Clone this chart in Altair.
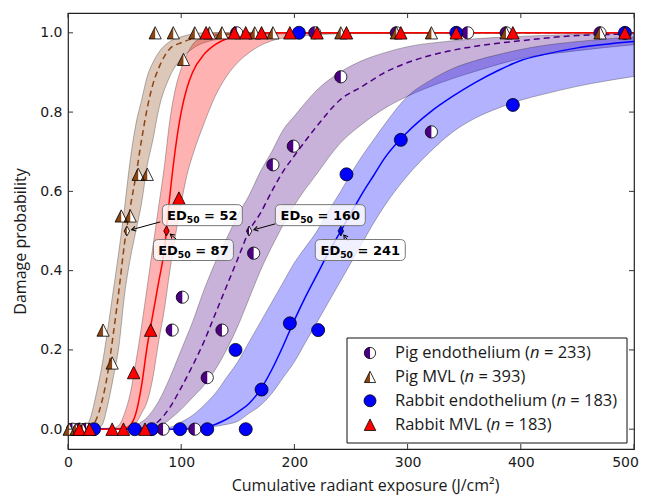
import math
import altair as alt
import pandas as pd

# ---------------- fitted dose-response curves ----------------
pig_end_x   = [0, 50, 60, 70, 80, 90, 100, 110, 120, 130, 140, 150, 160, 170, 180, 190, 200, 220, 240, 260, 280, 300, 330, 360, 400, 450, 500]
pig_end_fit = [0, 0, 0.001, 0.005, 0.02, 0.055, 0.105, 0.16, 0.22, 0.29, 0.36, 0.43, 0.50, 0.545, 0.60, 0.65, 0.69, 0.765, 0.83, 0.865, 0.90, 0.925, 0.95, 0.966, 0.98, 0.993, 0.997]
pig_end_lo  = [0, 0, 0, 0, 0.006, 0.025, 0.05, 0.08, 0.11, 0.15, 0.20, 0.26, 0.33, 0.40, 0.46, 0.515, 0.565, 0.645, 0.72, 0.77, 0.81, 0.84, 0.875, 0.903, 0.935, 0.955, 0.97]
pig_end_hi  = [0, 0, 0.01, 0.03, 0.07, 0.13, 0.20, 0.27, 0.35, 0.42, 0.48, 0.54, 0.59, 0.65, 0.70, 0.755, 0.79, 0.856, 0.90, 0.93, 0.95, 0.965, 0.977, 0.985, 0.991, 0.996, 0.999]

pig_mvl_x   = [0, 10, 15, 20, 25, 30, 35, 40, 45, 50, 55, 60, 65, 70, 75, 80, 90, 100, 110, 120, 150, 200, 500]
pig_mvl_fit = [0, 0, 0.001, 0.005, 0.025, 0.07, 0.14, 0.24, 0.35, 0.47, 0.56, 0.64, 0.73, 0.81, 0.87, 0.91, 0.96, 0.975, 0.985, 0.99, 0.998, 1.0, 1.0]
pig_mvl_lo  = [0, 0, 0, 0, 0, 0.01, 0.06, 0.13, 0.21, 0.34, 0.43, 0.50, 0.57, 0.665, 0.73, 0.805, 0.89, 0.935, 0.96, 0.975, 0.99, 0.998, 1.0]
pig_mvl_hi  = [0, 0, 0.005, 0.03, 0.09, 0.16, 0.25, 0.35, 0.45, 0.56, 0.68, 0.77, 0.83, 0.89, 0.925, 0.95, 0.978, 0.99, 0.997, 1.0, 1.0, 1.0, 1.0]

rab_end_x   = [0, 90, 100, 110, 120, 130, 140, 150, 160, 170, 180, 190, 200, 210, 220, 230, 241, 250, 260, 270, 280, 300, 320, 340, 360, 380, 400, 420, 450, 500]
rab_end_fit = [0, 0, 0, 0.002, 0.005, 0.012, 0.025, 0.043, 0.065, 0.10, 0.15, 0.21, 0.275, 0.335, 0.39, 0.445, 0.50, 0.545, 0.595, 0.64, 0.685, 0.75, 0.80, 0.84, 0.875, 0.905, 0.93, 0.945, 0.962, 0.978]
rab_end_lo  = [0, 0, 0, 0, 0.003, 0.007, 0.012, 0.02, 0.04, 0.06, 0.09, 0.13, 0.17, 0.22, 0.27, 0.32, 0.375, 0.42, 0.47, 0.52, 0.565, 0.64, 0.70, 0.75, 0.785, 0.81, 0.83, 0.845, 0.865, 0.89]
rab_end_hi  = [0, 0.005, 0.018, 0.035, 0.06, 0.09, 0.13, 0.17, 0.22, 0.27, 0.32, 0.37, 0.42, 0.46, 0.50, 0.55, 0.60, 0.645, 0.69, 0.73, 0.77, 0.84, 0.88, 0.91, 0.93, 0.945, 0.958, 0.968, 0.978, 0.99]

rab_mvl_x   = [0, 40, 45, 50, 55, 60, 65, 70, 75, 80, 85, 90, 95, 100, 105, 110, 120, 130, 140, 150, 160, 180, 200, 250, 500]
rab_mvl_fit = [0, 0, 0, 0.002, 0.01, 0.04, 0.11, 0.21, 0.29, 0.37, 0.45, 0.59, 0.71, 0.80, 0.86, 0.90, 0.945, 0.97, 0.985, 0.993, 0.997, 1.0, 1.0, 1.0, 1.0]
rab_mvl_lo  = [0, 0, 0, 0, 0.002, 0.015, 0.04, 0.07, 0.13, 0.22, 0.30, 0.40, 0.49, 0.57, 0.64, 0.69, 0.77, 0.84, 0.89, 0.925, 0.95, 0.98, 0.99, 0.998, 1.0]
rab_mvl_hi  = [0, 0.003, 0.01, 0.04, 0.09, 0.17, 0.26, 0.36, 0.46, 0.56, 0.66, 0.78, 0.86, 0.91, 0.945, 0.97, 0.99, 1.0, 1.0, 1.0, 1.0, 1.0, 1.0, 1.0, 1.0]

# ---------------- observed damage probabilities ----------------
pig_end_pts_x = [4, 10, 16, 84, 112, 92, 136, 123, 101, 164, 181, 199, 241, 321, 149, 218, 290, 353, 387, 470]
pig_end_pts_y = [0, 0, 0, 0, 0, 0.25, 0.25, 0.13, 0.333, 0.444, 0.667, 0.714, 0.889, 0.75, 1, 1, 1, 1, 1, 1]

pig_mvl_pts_x = [1, 7, 13, 19, 31, 39, 47, 55, 62, 70, 102, 77, 93, 112, 125, 136, 165, 181, 241, 290, 321, 387, 470]
pig_mvl_pts_y = [0, 0, 0, 0, 0.25, 0.167, 0.538, 0.538, 0.643, 0.643, 0.933, 1, 1, 1, 1, 1, 1, 1, 1, 1, 1, 1, 1]

rab_end_pts_x = [23, 59, 74, 99, 123, 157, 148, 171, 196, 221, 246, 294, 393, 204, 343, 492]
rab_end_pts_y = [0, 0, 0, 0, 0, 0, 0.2, 0.1, 0.267, 0.25, 0.643, 0.73, 0.818, 1, 1, 1]

rab_mvl_pts_x = [10, 19, 39, 49, 68, 58, 73, 98, 122, 147, 157, 171, 196, 220, 246, 294, 343, 393, 492]
rab_mvl_pts_y = [0, 0, 0, 0, 0, 0.143, 0.25, 0.583, 1, 1, 1, 1, 1, 1, 1, 1, 1, 1, 1]

# ---------------- ED50 annotations ----------------
ed50_values  = [160, 52, 241, 87]
ed50_label_x = [222.9, 118.7, 258.2, 110.8]
ed50_label_y = [0.540, 0.540, 0.452, 0.452]
ed50_tail_x  = [183.1, 81.6, 247.6, 95.8]
ed50_tail_y  = [0.518, 0.523, 0.475, 0.479]

legend_names = ["Pig endothelium", "Pig MVL", "Rabbit endothelium", "Rabbit MVL"]
legend_n     = [233, 393, 183, 183]

x_ticks = [0, 100, 200, 300, 400, 500]
y_ticks = [0.0, 0.2, 0.4, 0.6, 0.8, 1.0]

# ---------------- geometry / styles ----------------
W, H = 566, 436
X_DOM = [0, 500]
Y_DOM = [-0.05, 1.05]
KX = W / (X_DOM[1] - X_DOM[0])
KY = H / (Y_DOM[1] - Y_DOM[0])


def px2x(p):
    return X_DOM[0] + p / KX


def py2y(p):
    return Y_DOM[1] - p / KY


XS = alt.Scale(domain=X_DOM, nice=False, zero=False)
YS = alt.Scale(domain=Y_DOM, nice=False, zero=False)
XAX = alt.Axis(title="Cumulative radiant exposure (J/cm²)", values=x_ticks, format="d",
               grid=False, domain=False, ticks=False, tickSize=0, labelPadding=6,
               labelFont="DejaVu Sans", labelFontSize=14, labelColor="#1a1a1a",
               labelFlush=False, labelOverlap=False,
               labelOffset={"condition": {"test": "datum.value == 500", "value": -9}, "value": 0},
               titleFont="Open Sans", titleX=297, titleAlign="center",
               titleFontSize=16, titleFontWeight="normal", titleColor="#1a1a1a",
               titlePadding=8)
YAX = alt.Axis(title="Damage probability", values=y_ticks, format=".1f",
               grid=False, domain=False, ticks=False, tickSize=0, labelPadding=6,
               labelFont="DejaVu Sans", labelFontSize=14, labelColor="#1a1a1a",
               labelFlush=False, labelOverlap=False, titleFont="Open Sans",
               titleY=228, titleAlign="center",
               titleFontSize=16, titleFontWeight="normal", titleColor="#1a1a1a",
               titlePadding=11)


def X(f="x"):
    return alt.X(f"{f}:Q", scale=XS, axis=XAX)


def Y(f="y"):
    return alt.Y(f"{f}:Q", scale=YS, axis=YAX)


TRI = "M0,-1L-1,1L1,1Z"
TRI_HALF = "M0,-1L-1,1L0,1Z"
CIRC_HALF = "M0,-1A1,1,0,0,0,0,1Z"
DIAM = "M0,-1L0.55,0L0,1L-0.55,0Z"
DIAM_HALF = "M0,-1L-0.55,0L0,1Z"
ARROW = "M-1,-0.6L0,0L-1,0.6"

series = [
    dict(key="pig_end", color="#4B0082", dash=[6, 4], full="circle", half=CIRC_HALF, size=150,
         x=pig_end_x, fit=pig_end_fit, lo=pig_end_lo, hi=pig_end_hi, px=pig_end_pts_x, py=pig_end_pts_y),
    dict(key="pig_mvl", color="#8B4513", dash=[6, 4], full=TRI, half=TRI_HALF, size=150,
         x=pig_mvl_x, fit=pig_mvl_fit, lo=pig_mvl_lo, hi=pig_mvl_hi, px=pig_mvl_pts_x, py=pig_mvl_pts_y),
    dict(key="rab_end", color="#0000FF", dash=None, full="circle", half=None, size=169,
         x=rab_end_x, fit=rab_end_fit, lo=rab_end_lo, hi=rab_end_hi, px=rab_end_pts_x, py=rab_end_pts_y),
    dict(key="rab_mvl", color="#FF0000", dash=None, full=TRI, half=None, size=156,
         x=rab_mvl_x, fit=rab_mvl_fit, lo=rab_mvl_lo, hi=rab_mvl_hi, px=rab_mvl_pts_x, py=rab_mvl_pts_y),
]


def marker_layers(df, color, full, half, size, xf="x", yf="y"):
    enc = dict(x=X(xf), y=Y(yf))
    if half is None:
        return [alt.Chart(df).mark_point(shape=full, filled=True, fill=color, stroke="black",
                                         strokeWidth=0.8, size=size, opacity=1).encode(**enc)]
    return [
        alt.Chart(df).mark_point(shape=full, filled=True, fill="white", strokeWidth=0,
                                 size=size, opacity=1).encode(**enc),
        alt.Chart(df).mark_point(shape=half, filled=True, fill=color, strokeWidth=0,
                                 size=size, opacity=1).encode(**enc),
        alt.Chart(df).mark_point(shape=full, filled=False, stroke="black", strokeWidth=0.8,
                                 size=size, opacity=1).encode(**enc),
    ]


bands, lines, markers = [], [], []
for s in series:
    cdf = pd.DataFrame({"x": s["x"], "y": s["fit"], "lo": s["lo"], "hi": s["hi"]})
    first = next(i for i, v in enumerate(s["hi"]) if v > 0)
    bdf = cdf.iloc[max(first - 1, 0):]
    bands.append(alt.Chart(bdf).mark_area(fill=s["color"], fillOpacity=0.3, stroke="#333",
                                          strokeOpacity=0.45, strokeWidth=0.8,
                                          interpolate="monotone")
                 .encode(x=X(), y=Y("lo"), y2=alt.Y2("hi:Q")))
    lkw = dict(color=s["color"], strokeWidth=1.5, interpolate="monotone")
    if s["dash"]:
        lkw["strokeDash"] = s["dash"]
    lines.append(alt.Chart(cdf).mark_line(**lkw).encode(x=X(), y=Y()))
    pdf = pd.DataFrame({"x": s["px"], "y": s["py"]})
    markers += marker_layers(pdf, s["color"], s["full"], s["half"], s["size"])

# ---- ED50 markers, arrows, labels ----
DV_B = {'E': 0.683, 'D': 0.830, ' ': 0.348, '=': 0.838}
FS_A, FS_S = 13, 9.2


def tw_dv(s, fs):
    return fs * sum(DV_B.get(c, 0.696) for c in s)


ann_layers = []
rows = []
for i, s in enumerate(series):
    ed = ed50_values[i]
    vx = (ed50_tail_x[i] - ed) * KX
    vy = -(ed50_tail_y[i] - 0.5) * KY
    L = math.hypot(vx, vy)
    tipx = ed + 5 / L * vx / KX
    tipy = 0.5 - 5 / L * vy / KY
    ang = math.degrees(math.atan2(-vy, -vx)) % 360
    w = 80 if len(str(ed)) == 2 else 90
    h, r = 21, 5
    hh, rr = h / w, r / (w / 2)
    path = (f"M{-1+rr:.4f},{-hh:.4f}L{1-rr:.4f},{-hh:.4f}Q1,{-hh:.4f},1,{-hh+rr:.4f}"
            f"L1,{hh-rr:.4f}Q1,{hh:.4f},{1-rr:.4f},{hh:.4f}L{-1+rr:.4f},{hh:.4f}"
            f"Q-1,{hh:.4f},-1,{hh-rr:.4f}L-1,{-hh+rr:.4f}Q-1,{-hh:.4f},{-1+rr:.4f},{-hh:.4f}Z")
    wa = tw_dv("ED", FS_A)
    wb = tw_dv("50", FS_S)
    wc = tw_dv(f" = {ed}", FS_A)
    start = -(wa + wb + wc) / 2
    lx = ed50_label_x[i]
    rows.append(dict(tx=ed50_tail_x[i], ty=ed50_tail_y[i], hx=tipx, hy=tipy,
                     ang=ang, lx=lx, ly=ed50_label_y[i],
                     xa=lx + start / KX, xb=lx + (start + wa) / KX,
                     xc=lx + (start + wa + wb + FS_A * DV_B[' ']) / KX,
                     ta="ED", tb="50", tc=f"= {ed}",
                     bpath=path, bsize=w * w))
    ddf = pd.DataFrame({"x": [ed], "y": [0.5]})
    ann_layers += marker_layers(ddf, s["color"], DIAM, DIAM_HALF if s["half"] else None, 100)
ann = pd.DataFrame(rows)
akw = dict(font="DejaVu Sans", fontWeight="bold", color="black", align="left", baseline="alphabetic")
ann_layers += [
    alt.Chart(ann).mark_rule(color="black", strokeWidth=1)
    .encode(x=X("tx"), y=Y("ty"), x2=alt.X2("hx:Q"), y2=alt.Y2("hy:Q")),
    alt.Chart(ann).mark_point(shape=ARROW, filled=False, stroke="black", strokeWidth=1,
                              size=64, opacity=1)
    .encode(x=X("hx"), y=Y("hy"), angle=alt.Angle("ang:Q", scale=None)),
    alt.Chart(ann).mark_point(filled=True, fill="white", fillOpacity=0.8, stroke="#777",
                              strokeWidth=1, opacity=1)
    .encode(x=X("lx"), y=Y("ly"), shape=alt.Shape("bpath:N", scale=None, legend=None),
            size=alt.Size("bsize:Q", scale=None, legend=None)),
    alt.Chart(ann).mark_text(fontSize=FS_A, dy=4.5, **akw).encode(x=X("xa"), y=Y("ly"), text="ta:N"),
    alt.Chart(ann).mark_text(fontSize=FS_S, dy=7.5, **akw).encode(x=X("xb"), y=Y("ly"), text="tb:N"),
    alt.Chart(ann).mark_text(fontSize=FS_A, dy=4.5, **akw).encode(x=X("xc"), y=Y("ly"), text="tc:N"),
]

# ---- inward ticks on all four sides ----
xt = pd.DataFrame({"v": x_ticks})
yt = pd.DataFrame({"v": y_ticks})
tick_layers = [
    alt.Chart(xt).mark_rule(color="#333", strokeWidth=1).encode(x=X("v"), y=alt.value(H), y2=alt.value(H - 5)),
    alt.Chart(xt).mark_rule(color="#333", strokeWidth=1).encode(x=X("v"), y=alt.value(0), y2=alt.value(5)),
    alt.Chart(yt).mark_rule(color="#333", strokeWidth=1).encode(y=Y("v"), x=alt.value(0), x2=alt.value(5)),
    alt.Chart(yt).mark_rule(color="#333", strokeWidth=1).encode(y=Y("v"), x=alt.value(W), x2=alt.value(W - 5)),
]

# ---- legend (drawn by hand to allow italic n) ----
OS_W = {' ': 0.26, '(': 0.296, ')': 0.296, '=': 0.571, 'P': 0.603, 'M': 0.881, 'V': 0.592,
        'L': 0.521, 'R': 0.616, 'a': 0.556, 'b': 0.613, 'd': 0.613, 'e': 0.561, 'g': 0.548,
        'h': 0.614, 'i': 0.253, 'l': 0.253, 'm': 0.93, 'n': 0.614, 'o': 0.604, 't': 0.349,
        'u': 0.614}
LFS = 16.5


def tw(s, fs=LFS):
    return fs * sum(OS_W.get(c, 0.571) for c in s)


leg_box = pd.DataFrame({"x1": [px2x(279)], "x2": [px2x(559)], "y1": [py2y(325)], "y2": [py2y(430)]})
legend_layers = [alt.Chart(leg_box).mark_rect(fill="white", stroke="#111", strokeWidth=1)
                 .encode(x=X("x1"), x2=alt.X2("x2:Q"), y=Y("y1"), y2=alt.Y2("y2:Q"))]
txt_rows = []
for i, s in enumerate(series):
    ypx = 340 + 23.9 * i
    mdf = pd.DataFrame({"x": [px2x(302)], "y": [py2y(ypx)]})
    legend_layers += marker_layers(mdf, s["color"], s["full"], s["half"], s["size"] * 0.85)
    pre = legend_names[i] + " ("
    x0 = 327
    x1 = x0 + tw(pre)
    x2 = x1 + 0.58 * LFS + tw(" ")
    txt_rows.append(dict(y=py2y(ypx), xa=px2x(x0), xb=px2x(x1), xc=px2x(x2),
                         a=pre, b="n", c=f"= {legend_n[i]})"))
tdf = pd.DataFrame(txt_rows)
tkw = dict(font="Open Sans", fontSize=LFS, color="#1a1a1a", align="left", baseline="middle")
legend_layers += [
    alt.Chart(tdf).mark_text(**tkw).encode(x=X("xa"), y=Y("y"), text="a:N"),
    alt.Chart(tdf).mark_text(fontStyle="italic", **tkw).encode(x=X("xb"), y=Y("y"), text="b:N"),
    alt.Chart(tdf).mark_text(**tkw).encode(x=X("xc"), y=Y("y"), text="c:N"),
]

chart = alt.layer(*(bands + lines + markers + ann_layers + tick_layers + legend_layers)).properties(
    width=W, height=H,
    autosize=alt.AutoSizeParams(type="none"),
    padding={"left": 60, "top": 5, "right": 5, "bottom": 49},
).configure_view(stroke="#222", strokeWidth=1.2)

chart.save("out.html", embed_options={"renderer": "svg", "actions": False})
